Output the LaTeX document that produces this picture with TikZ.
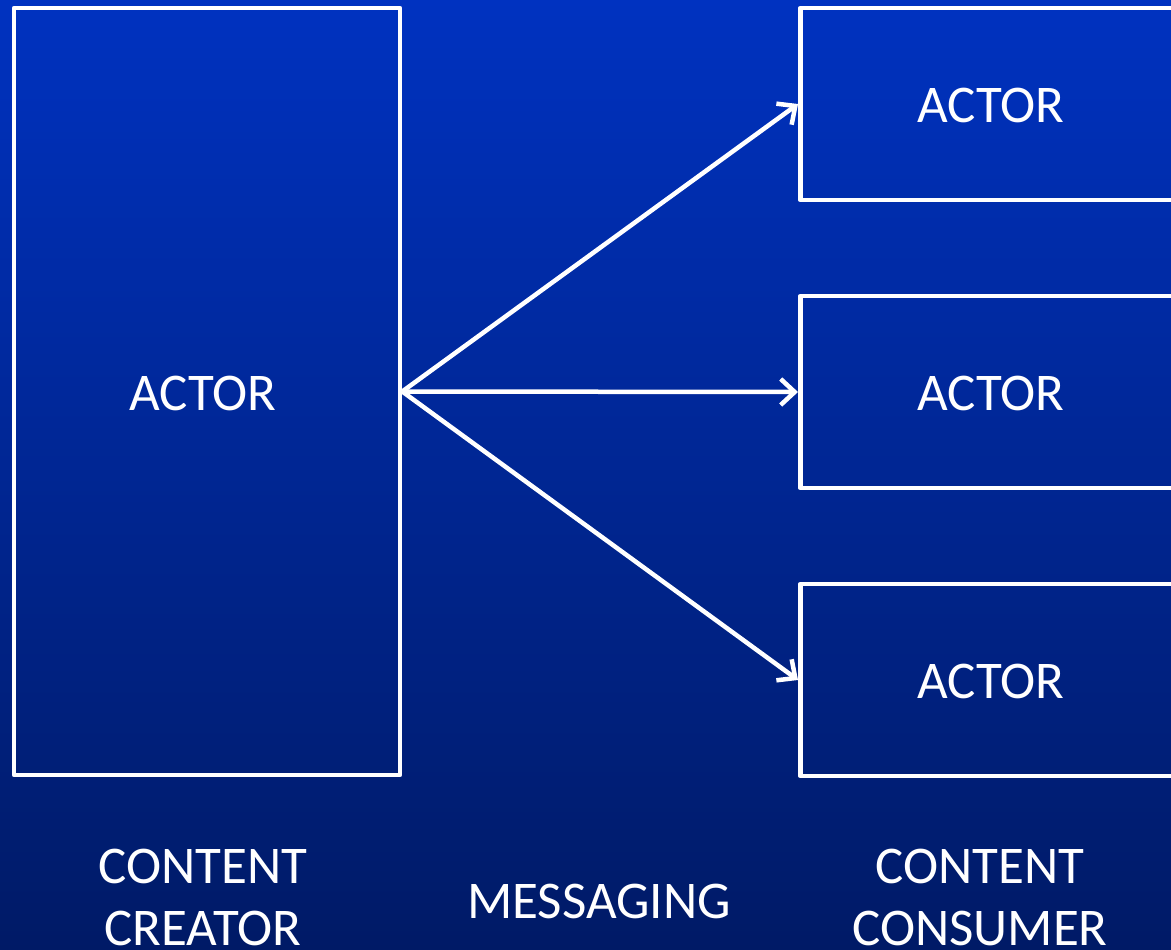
\documentclass[tikz,border=0pt]{standalone}
\usepackage{fontspec}
\setmainfont{Carlito}
\usetikzlibrary{arrows.meta}
\definecolor{bgtop}{RGB}{0,50,192}
\definecolor{bgbot}{RGB}{0,26,102}
\begin{document}
\begin{tikzpicture}[x=1pt,y=-1pt,
  actorbox/.style={draw=white,line width=4.5pt,line join=round,inner sep=0pt},
  lbl/.style={text=white,font=\fontsize{53}{62}\selectfont,align=center,inner sep=0pt},
  msg/.style={draw=white,line width=4.5pt,-{Straight Barb[length=14pt,width=26pt,line width=4.5pt]}}]
\useasboundingbox (0,0) rectangle (1171,950);
\clip (0,0) rectangle (1171,950);
\shade[top color=bgtop,bottom color=bgbot] (0,0) rectangle (1171,950);
\node[actorbox,minimum width=386pt,minimum height=767pt] (creator) at (207,391.5) {};
\node[actorbox,minimum width=420pt,minimum height=192pt,anchor=west] (c1) at (798,104) {};
\node[actorbox,minimum width=420pt,minimum height=192pt,anchor=west] (c2) at (798,392) {};
\node[actorbox,minimum width=420pt,minimum height=192pt,anchor=west] (c3) at (798,680) {};
\node[lbl] (t0) at (203,393) {ACTOR};
\node[lbl] (t1) at (991,105) {ACTOR};
\node[lbl] (t2) at (991,393) {ACTOR};
\node[lbl] (t3) at (991,681) {ACTOR};
\node[lbl,anchor=north] (cc) at (203,849) {CONTENT\\CREATOR};
\node[lbl] (ms) at (599,901) {MESSAGING};
\node[lbl,anchor=north] (cs) at (980,849) {CONTENT\\CONSUMER};
\coordinate (src) at (creator.east);
\draw[msg] (src) -- (c1.west);
\draw[msg] (src) -- (c2.west);
\draw[msg] (src) -- (c3.west);
\end{tikzpicture}
\end{document}
